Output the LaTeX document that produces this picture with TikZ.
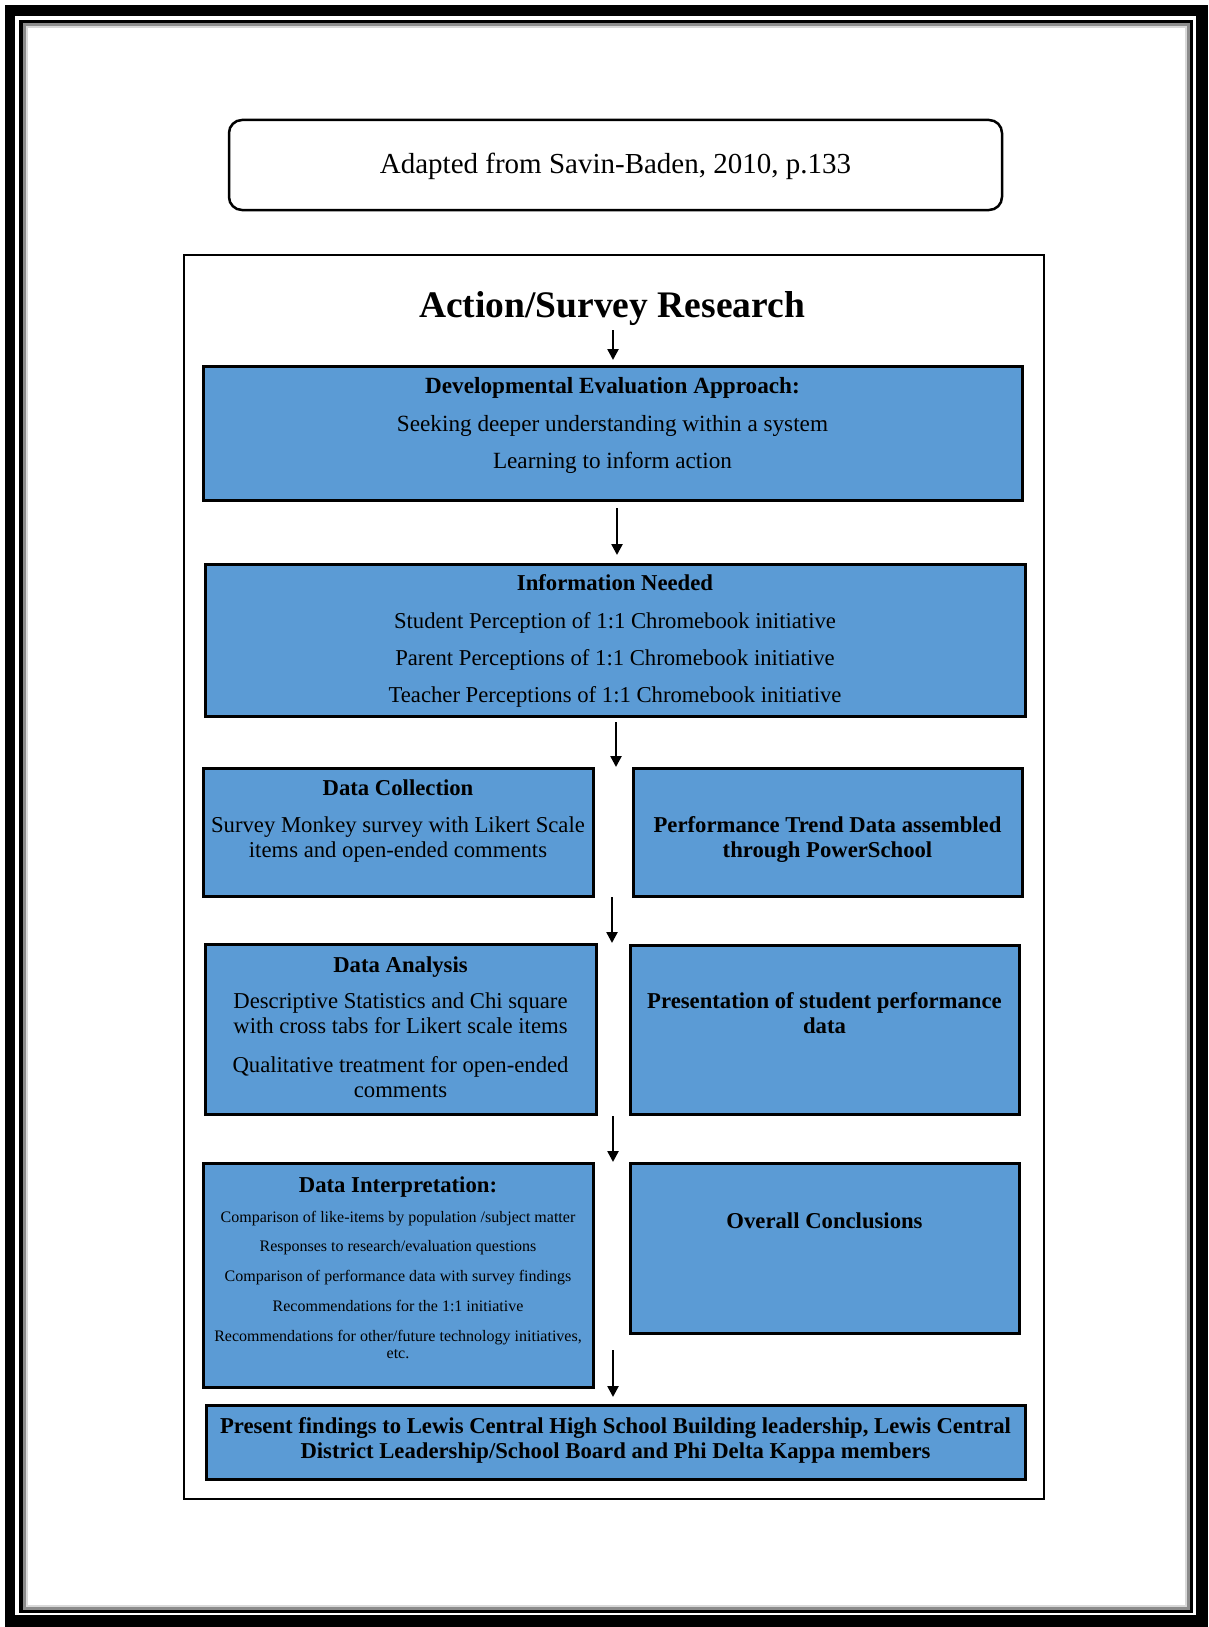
\documentclass[tikz,border=0pt]{standalone}
\usepackage{fontspec}
\setmainfont{Liberation Serif}
\usetikzlibrary{arrows.meta}
\definecolor{boxblue}{RGB}{91,155,213}
\tikzset{
  bluebox/.style={draw=black, fill=boxblue, line width=3pt, rectangle, inner sep=0pt, outer sep=0pt, anchor=north west},
  topbox/.style={draw=black, fill=white, line width=2.5pt, rectangle, rounded corners=13pt, inner sep=0pt, outer sep=0pt, anchor=north west},
  reg/.style={font=\fontsize{22.7}{25}\selectfont, anchor=base, inner sep=0pt},
  bld/.style={font=\fontsize{22.7}{25}\selectfont\bfseries, anchor=base, inner sep=0pt},
  sml/.style={font=\fontsize{16}{18}\selectfont, anchor=base, inner sep=0pt},
  arr/.style={draw=black, line width=2.5pt, -{Triangle[length=11pt,width=11pt]}},
}
\begin{document}
\begin{tikzpicture}[x=1pt,y=-1pt]
\useasboundingbox (0,0) rectangle (1208,1627);
% page frame
\fill[black] (5,5) rectangle (1208,1627);
\fill[white] (15,16) rectangle (1196,1615);
\draw[black, line width=3.5pt] (21,21.5) rectangle (1191.5,1611.5);
\draw[black!45, line width=3pt] (24.5,25) rectangle (1188,1608);
\draw[black!15, line width=2pt] (27,27.5) rectangle (1185.5,1605.5);

% source box
\node[topbox, minimum width=773pt, minimum height=90pt] (src) at (229,120) {};
\node[font=\fontsize{29}{32}\selectfont, anchor=base, inner sep=0pt] (srct) at (615.5,173) {Adapted from Savin-Baden, 2010, p.133};

% outer frame
\node[draw=black, fill=white, line width=2.5pt, rectangle, inner sep=0pt, outer sep=0pt, anchor=north west, minimum width=860pt, minimum height=1244pt] (outer) at (184,255) {};

% title
\node[font=\fontsize{37.5}{40}\selectfont\bfseries, anchor=base, inner sep=0pt] (title) at (612,317) {Action/Survey Research};

% boxes
\node[bluebox, minimum width=819pt, minimum height=134pt] (b1) at (203,366) {};
\node[bluebox, minimum width=820pt, minimum height=152pt] (b2) at (205,564) {};
\node[bluebox, minimum width=390pt, minimum height=128pt] (b3a) at (203,768) {};
\node[bluebox, minimum width=389pt, minimum height=128pt] (b3b) at (633,768) {};
\node[bluebox, minimum width=391pt, minimum height=170pt] (b4a) at (205,944) {};
\node[bluebox, minimum width=389pt, minimum height=169pt] (b4b) at (630,945) {};
\node[bluebox, minimum width=390pt, minimum height=224pt] (b5a) at (203,1163) {};
\node[bluebox, minimum width=389pt, minimum height=170pt] (b5b) at (630,1163) {};
\node[bluebox, minimum width=819pt, minimum height=74pt] (b6) at (206,1405) {};

% box 1 text
\node[bld, font=\fontsize{23.2}{25}\selectfont\bfseries] (t1h) at (612.5,393) {Developmental Evaluation Approach:};
\node[reg, font=\fontsize{23.2}{25}\selectfont] (t1a) at (612.5,431) {Seeking deeper understanding within a system};
\node[reg, font=\fontsize{23.2}{25}\selectfont] (t1b) at (612.5,468) {Learning to inform action};

% box 2 text
\node[bld] (t2h) at (615,590) {Information Needed};
\node[reg] (t2a) at (615,628) {Student Perception of 1:1 Chromebook initiative};
\node[reg] (t2b) at (615,665) {Parent Perceptions of 1:1 Chromebook initiative};
\node[reg] (t2c) at (615,702) {Teacher Perceptions of 1:1 Chromebook initiative};

% box 3a / 3b
\node[bld] (t3h) at (398,795) {Data Collection};
\node[reg] (t3a) at (398,832) {Survey Monkey survey with Likert Scale};
\node[reg] (t3b) at (398,857) {items and open-ended comments};
\node[bld] (t3c) at (827.5,832) {Performance Trend Data assembled};
\node[bld] (t3d) at (827.5,857) {through PowerSchool};

% box 4a / 4b
\node[bld] (t4h) at (400.5,972) {Data Analysis};
\node[reg] (t4a) at (400.5,1008) {Descriptive Statistics and Chi square};
\node[reg] (t4b) at (400.5,1033) {with cross tabs for Likert scale items};
\node[reg] (t4c) at (400.5,1072) {Qualitative treatment for open-ended};
\node[reg] (t4d) at (400.5,1097) {comments};
\node[bld] (t4e) at (824.5,1008) {Presentation of student performance};
\node[bld] (t4f) at (824.5,1033) {data};

% box 5a / 5b
\node[bld] (t5h) at (398,1192) {Data Interpretation:};
\node[sml] (t5a) at (398,1222) {Comparison of like-items by population /subject matter};
\node[sml] (t5b) at (398,1251) {Responses to research/evaluation questions};
\node[sml] (t5c) at (398,1281) {Comparison of performance data with survey findings};
\node[sml] (t5d) at (398,1311) {Recommendations for the 1:1 initiative};
\node[sml] (t5e) at (398,1341) {Recommendations for other/future technology initiatives,};
\node[sml] (t5f) at (398,1358) {etc.};
\node[bld] (t5g) at (824.5,1228) {Overall Conclusions};

% box 6
\node[bld] (t6a) at (615.5,1433) {Present findings to Lewis Central High School Building leadership, Lewis Central};
\node[bld] (t6b) at (615.5,1458) {District Leadership/School Board and Phi Delta Kappa members};

% arrows
\coordinate (ax1) at (613,0);
\coordinate (ax2) at (617,0);
\coordinate (ax3) at (616,0);
\coordinate (ax4) at (612,0);
\coordinate (ax5) at (613,0);
\coordinate (ax6) at (613,0);
\draw[arr, shorten <=5pt, shorten >=6pt] (title.south -| ax1) -- (b1.north -| ax1);
\draw[arr, shorten <=8pt, shorten >=9pt] (b1.south -| ax2) -- (b2.north -| ax2);
\draw[arr, shorten <=6pt, shorten >=1pt] (b2.south -| ax3) -- (b3a.north -| ax3);
\draw[arr, shorten <=1pt, shorten >=1pt] (b3a.south -| ax4) -- (b4a.north -| ax4);
\draw[arr, shorten <=2pt, shorten >=1pt] (b4a.south -| ax5) -- (b5a.north -| ax5);
\draw[arr, shorten <=17pt, shorten >=8pt] (b5b.south -| ax6) -- (b6.north -| ax6);
\end{tikzpicture}
\end{document}
